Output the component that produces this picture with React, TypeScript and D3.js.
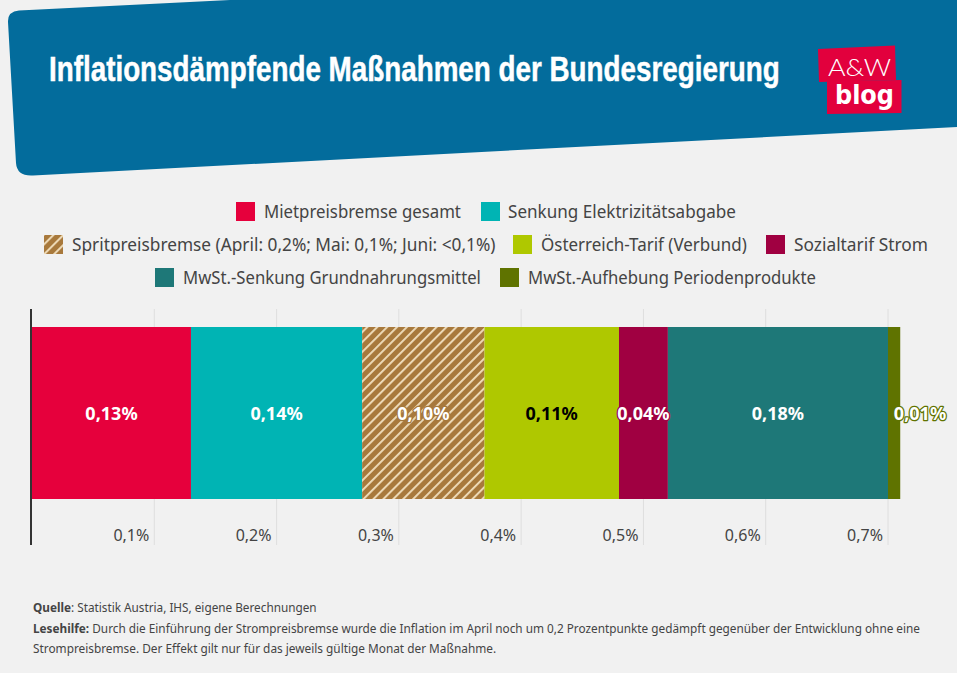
import React, { useLayoutEffect, useRef, useState } from "react";
import * as d3 from "d3";

const W = 957, H = 673;
const BG = "#f1f1f1";
const categories = ["Mietpreisbremse gesamt", "Senkung Elektrizitätsabgabe", "Spritpreisbremse (April: 0,2%; Mai: 0,1%; Juni: <0,1%)", "Österreich-Tarif (Verbund)", "Sozialtarif Strom", "MwSt.-Senkung Grundnahrungsmittel", "MwSt.-Aufhebung Periodenprodukte"];
const values = [0.13, 0.14, 0.10, 0.11, 0.04, 0.18, 0.01];
const colors = ["#e6003c", "#00b4b4", "url(#hatch)", "#afc800", "#a00041", "#1e7878", "#5f7300"];
const haloColors = ["#e6003c", "#00b4b4", "#a5783c", "none", "#a00041", "#1e7878", "#5f7300"];
const labelColors = ["#fff", "#fff", "#fff", "#000", "#fff", "#fff", "#fff"];
const tickValues = [0.1, 0.2, 0.3, 0.4, 0.5, 0.6, 0.7];

const legendRows = [0, 0, 1, 1, 1, 2, 2];
const legendSwatchX = [236, 481, 44, 513, 766, 155, 500];
const legendTextX = [264, 508, 72, 541, 794, 183, 528];
const legendTextW = [197, 228, 424, 206, 134, 298, 288];
const legendY = [212, 245, 278];

const x = d3.scaleLinear().domain([0, 0.7]).range([32, 888]);
const de = d3.formatLocale({ decimal: ",", thousands: ".", grouping: [3], currency: ["", "€"] });
const tickFmt = de.format(".1f");
const valFmt = de.format(".2f");
const BODY = "'Noto Sans', sans-serif";
const TEXT = "#444";

const stack = values.reduce<{ x0: number; x1: number; v: number; i: number }[]>((acc, v, i) => {
  const x0 = acc.length ? acc[acc.length - 1].x1 : 0;
  acc.push({ x0, x1: x0 + v, v, i });
  return acc;
}, []);

// Text squeezed horizontally to a measured target width through a transform,
// so that the text's own box matches what is drawn.
function FitText({ x, y, width, children, ...rest }: any) {
  const ref = useRef<SVGTextElement>(null);
  const [sx, setSx] = useState(1);
  useLayoutEffect(() => {
    const natural = ref.current ? ref.current.getComputedTextLength() : 0;
    if (natural > 0) setSx(width / natural);
  }, [width]);
  return (
    <text ref={ref} transform={`translate(${x},${y}) scale(${sx},1)`} {...rest}>
      {children}
    </text>
  );
}

export default function App() {
  const barTop = 327, barBottom = 499;
  return (
    <svg width={W} height={H} viewBox={`0 0 ${W} ${H}`} style={{ position: "absolute", left: 0, top: 0, background: BG }}>
      <defs>
        <pattern id="hatch" patternUnits="userSpaceOnUse" width="7" height="7" patternTransform="rotate(45)">
          <rect width="7" height="7" fill="#a8793c" />
          <rect width="1.9" height="7" fill="#efdcba" />
        </pattern>
      </defs>

      <path d="M8 22 Q7.5 11.5 19 10.5 L230 0 L957 0 L957 127 L33 175.5 Q17 176.5 16 163 Z" fill="#036c9c" />
      <FitText x={49} y={81} width={731} fontFamily="'Liberation Sans', sans-serif" fontWeight={700} fontSize={36} fill="#fff" stroke="#fff" strokeWidth={0.5}>Inflationsdämpfende Maßnahmen der Bundesregierung</FitText>

      <path d="M818 49 L895 45.5 L896 80 L819 82 Z" fill="#e2003d" />
      <path d="M827 81 L901.5 80 L901.5 113 L827 114 Z" fill="#e2003d" />
      <FitText x={828} y={76} width={63} fontFamily="Lato, 'Liberation Sans', sans-serif" fontWeight={300} fontSize={24} fill="#fff">A&amp;W</FitText>
      <FitText x={835} y={104} width={59} fontFamily="'DejaVu Sans', sans-serif" fontWeight={700} fontSize={26} fill="#fff">blog</FitText>

      {categories.map((c, i) => (
        <g key={c}>
          <rect x={legendSwatchX[i]} y={legendY[legendRows[i]] - 10} width={19} height={19} fill={colors[i]} />
          <FitText x={legendTextX[i]} y={legendY[legendRows[i]] + 6} width={legendTextW[i]} fontFamily={BODY} fontSize={18} fill={TEXT}>{c}</FitText>
        </g>
      ))}

      {tickValues.map((t) => (
        <line key={t} x1={x(t)} x2={x(t)} y1={309} y2={545} stroke="#dedede" strokeWidth={1} />
      ))}
      {tickValues.map((t) => (
        <text key={t} x={x(t) - 5} y={541} textAnchor="end" fontFamily={BODY} fontSize={16} fill={TEXT}>{tickFmt(t)}%</text>
      ))}

      {stack.map((d) => (
        <rect key={d.i} x={x(d.x0)} y={barTop} width={x(d.x1) - x(d.x0)} height={barBottom - barTop} fill={colors[d.i]} />
      ))}
      <line x1={31} x2={31} y1={309} y2={545} stroke="#333" strokeWidth={2} />

      {stack.map((d) => {
        const last = d.i === stack.length - 1;
        return (
          <text key={d.i} x={last ? 920 : (x(d.x0) + x(d.x1)) / 2} y={420} textAnchor="middle" fontFamily={BODY} fontWeight={700} fontSize={18}
            fill={labelColors[d.i]} stroke={haloColors[d.i]} strokeWidth={haloColors[d.i] === "none" ? 0 : 2.5} paintOrder="stroke" strokeLinejoin="round">
            {valFmt(d.v)}%
          </text>
        );
      })}

      <g fontFamily={BODY} fontSize={12.5} fill={TEXT}>
        <FitText x={33} y={612} width={284}><tspan fontWeight={700}>Quelle</tspan>: Statistik Austria, IHS, eigene Berechnungen</FitText>
        <FitText x={33} y={633} width={888}><tspan fontWeight={700}>Lesehilfe:</tspan> Durch die Einführung der Strompreisbremse wurde die Inflation im April noch um 0,2 Prozentpunkte gedämpft gegenüber der Entwicklung ohne eine</FitText>
        <FitText x={33} y={653} width={464}>Strompreisbremse. Der Effekt gilt nur für das jeweils gültige Monat der Maßnahme.</FitText>
      </g>
    </svg>
  );
}
